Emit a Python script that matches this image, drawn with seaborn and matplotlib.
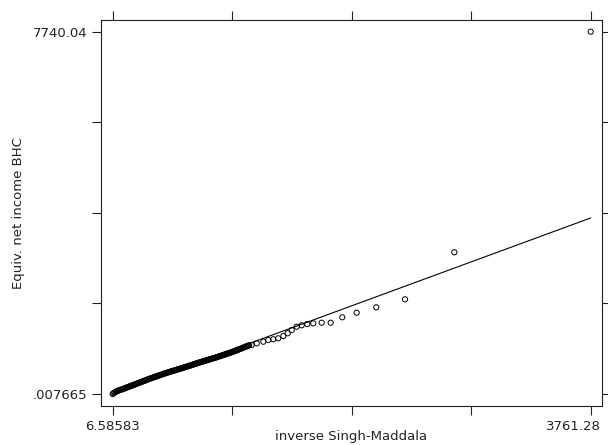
import matplotlib
matplotlib.use("Agg")
import matplotlib.pyplot as plt
import matplotlib.transforms as mtransforms
import seaborn as sns
import numpy as np
import pandas as pd

# theoretical quantiles (inverse Singh-Maddala) and observed values (Equiv. net income BHC)
quant_x = [
    6.58583, 13, 21, 29, 37, 45, 52, 60, 68, 76,
    84, 92, 100, 108, 116, 123, 131, 139, 147, 155,
    163, 171, 179, 187, 194, 202, 210, 218, 226, 234,
    242, 250, 258, 265, 273, 281, 289, 297, 305, 313,
    321, 329, 336, 344, 352, 360, 368, 376, 384, 392,
    400, 407, 415, 423, 431, 439, 447, 455, 463, 471,
    478, 486, 494, 502, 510, 518, 526, 534, 542, 549,
    557, 565, 573, 581, 589, 597, 605, 613, 620, 628,
    636, 644, 652, 660, 668, 676, 684, 691, 699, 707,
    715, 723, 731, 739, 747, 755, 762, 770, 778, 786,
    794, 802, 810, 818, 826, 833, 841, 849, 857, 865,
    873, 881, 889, 897, 904, 912, 920, 928, 936, 944,
    952, 960, 968, 975, 983, 991, 999, 1007, 1015, 1023,
    1031, 1039, 1046, 1054, 1062, 1070, 1078,
    1098, 1138, 1190, 1229, 1268, 1307, 1347, 1381, 1413, 1452,
    1491, 1535, 1582, 1648, 1719, 1810, 1923, 2077, 2303, 2690,
    3761.28,
]
income_y = [
    0.007665, 18, 33, 45, 56, 66, 74, 82, 90, 97,
    105, 112, 120, 128, 137, 144, 152, 161, 169, 178,
    186, 194, 203, 211, 219, 227, 235, 244, 252, 261,
    269, 278, 286, 293, 302, 310, 318, 327, 335, 342,
    350, 357, 364, 371, 379, 386, 394, 402, 409, 417,
    424, 431, 438, 446, 453, 460, 467, 473, 480, 486,
    492, 499, 506, 512, 519, 526, 532, 539, 546, 551,
    558, 565, 572, 579, 586, 593, 600, 607, 613, 620,
    627, 634, 642, 649, 656, 663, 670, 676, 683, 689,
    696, 702, 709, 716, 722, 729, 734, 741, 748, 754,
    761, 768, 774, 781, 788, 794, 802, 809, 816, 824,
    831, 838, 846, 853, 860, 867, 874, 881, 889, 896,
    904, 913, 921, 929, 937, 946, 955, 963, 972, 981,
    989, 998, 1006, 1014, 1023, 1032, 1040,
    1047, 1083, 1117, 1154, 1169, 1190, 1239, 1297, 1367, 1438,
    1468, 1495, 1510, 1523, 1523, 1639, 1737, 1852, 2023, 3027,
    7740.04,
]

x_min, x_max = 6.58583, 3761.28
y_min, y_max = 0.007665, 7740.04
x_tick_labels = ["6.58583", "", "", "", "3761.28"]
y_tick_labels = [".007665", "", "", "", "7740.04"]
x_label = "inverse Singh-Maddala"
y_label = "Equiv. net income BHC"

df = pd.DataFrame({"q": quant_x, "v": income_y})
ref = pd.DataFrame({"q": [x_min, x_max], "v": [x_min, x_max]})

sns.set_style("white")
plt.rcParams["font.family"] = ["DejaVu Sans"]

fig = plt.figure(figsize=(6.08, 4.45), dpi=100)
ax = fig.add_axes([101 / 608, 39 / 445, 501 / 608, 386 / 445])

sns.scatterplot(data=df, x="q", y="v", ax=ax, marker="o", s=14,
                facecolor="none", edgecolor="black", linewidth=0.7, zorder=3)
sns.lineplot(data=ref, x="q", y="v", ax=ax, color="black", linewidth=0.8, zorder=2)

ax.set_xlim(-85.3, 3850.1)
ax.set_ylim(-256.3, 7990)

xt = np.linspace(x_min, x_max, 5)
yt = np.linspace(y_min, y_max, 5)
ax.set_xticks(xt)
ax.set_xticklabels(x_tick_labels, fontsize=9.5)
ax.set_yticks(yt)
ax.set_yticklabels(y_tick_labels, fontsize=9.5)

ax.tick_params(axis="both", which="major", direction="out", length=6.5, width=0.8,
               color="#222222", top=True, right=True, bottom=True, left=True,
               labeltop=False, labelright=False, pad=3.5, labelcolor="#222222")

# keep the right-most x label inside the figure, as in the reference
last = ax.get_xticklabels()[-1]
last.set_transform(last.get_transform() +
                   mtransforms.ScaledTranslation(-17 / 100, 0, fig.dpi_scale_trans))

for sp in ax.spines.values():
    sp.set_visible(True)
    sp.set_color("#222222")
    sp.set_linewidth(0.8)

ax.set_xlabel(x_label, fontsize=9.5, color="#222222")
ax.set_ylabel(y_label, fontsize=9.5, color="#222222")
ax.xaxis.set_label_coords(0.5, -0.062)
ax.yaxis.set_label_coords(-0.152, 0.5)

fig.savefig("out.png", dpi=100, facecolor="white")
